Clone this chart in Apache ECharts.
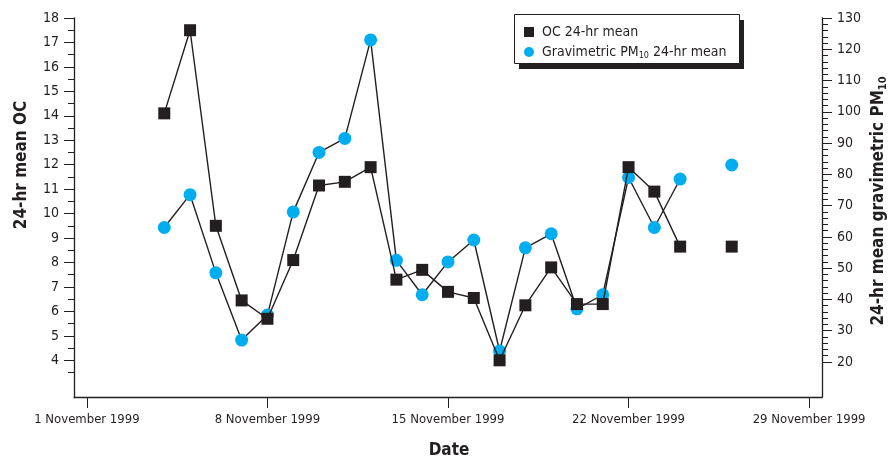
<!DOCTYPE html>
<html>
<head>
<meta charset="utf-8">
<script src="https://cdn.jsdelivr.net/npm/echarts@6/dist/echarts.min.js"></script>
<style>
  html, body { margin: 0; padding: 0; background: #fff; }
  #chart { width: 894px; height: 459px; }
</style>
</head>
<body>
<div id="chart"></div>
<script>
// days of November 1999 (25 has no sample)
const days = [4, 5, 6, 7, 8, 9, 10, 11, 12, 13, 14, 15, 16, 17, 18, 19, 20, 21, 22, 23, 24, 25, 26]
const ocValues = [14.1, 17.5, 9.5, 6.45, 5.7, 8.1, 11.15, 11.3, 11.9, 7.3, 7.7, 6.8, 6.55, 4.0, 6.25, 7.8, 6.3, 6.3, 11.9, 10.9, 8.65, null, 8.65]
const pmValues = [63, 73.5, 48.5, 27, 35, 68, 87, 91.5, 123, 52.5, 41.5, 52, 59, 23.5, 56.5, 61, 37, 41.5, 79, 63, 78.5, null, 83]
const dateTicks = [1, 8, 15, 22, 29]
const ocLabels = [4, 5, 6, 7, 8, 9, 10, 11, 12, 13, 14, 15, 16, 17, 18]
const pmLabels = [20, 30, 40, 50, 60, 70, 80, 90, 100, 110, 120, 130]

const ocName = 'OC 24-hr mean'
const pmName = 'Gravimetric PM10 24-hr mean'
const ink = '#231f20'
const cyan = '#00aeef'
const font = '"DejaVu Sans Condensed", "Liberation Sans", sans-serif'

let ocMinor = []
for (let i = 3.5; i < 18; i += 1) ocMinor.push(i)
let pmMinor = []
for (let i = 22; i < 130; i += 2) {
  if (i % 10 !== 0) pmMinor.push(i)
}

const pair = (vals) => days.map((d, i) => [d, vals[i] == null ? '-' : vals[i]])

const chart = echarts.init(document.getElementById('chart'), null, { renderer: 'canvas' })

const baseY = {
  type: 'value',
  splitLine: { show: false },
  axisLine: { show: true, lineStyle: { color: ink, width: 1.3 } },
  axisLabel: { color: ink, fontFamily: font, fontSize: 14, margin: 15 },
  axisTick: { show: true, length: 10, lineStyle: { color: ink, width: 1 } }
}
const minorY = {
  type: 'value',
  splitLine: { show: false },
  axisLine: { show: false },
  axisLabel: { show: false },
  axisTick: { show: true, length: 6, lineStyle: { color: ink, width: 1 } }
}

const option = {
  animation: false,
  backgroundColor: '#fff',
  grid: { left: 74, right: 72, top: 18, bottom: 62 },
  legend: {
    orient: 'vertical',
    left: 514,
    top: 14,
    z: 10,
    padding: [11, 8, 8, 10],
    itemGap: 6,
    itemWidth: 10,
    itemHeight: 10,
    data: [
      { name: ocName, icon: 'rect' },
      { name: pmName, icon: 'circle' }
    ],
    formatter: (name) => name === pmName ? 'Gravimetric PM{sub|10} 24-hr mean' : name,
    textStyle: {
      color: ink,
      fontFamily: font,
      fontSize: 14,
      padding: [0, 0, 0, 3],
      rich: {
        sub: { fontFamily: font, fontSize: 9, color: ink, verticalAlign: 'bottom', padding: [8, 0, 0, 0] }
      }
    }
  },
  xAxis: {
    type: 'value',
    min: 0.5,
    max: 29.5,
    splitLine: { show: false },
    axisLine: { show: true, onZero: false, lineStyle: { color: ink, width: 1.3 } },
    axisTick: { show: true, length: 11, customValues: dateTicks, lineStyle: { color: ink, width: 1 } },
    axisLabel: {
      color: ink, fontFamily: font, fontSize: 13, margin: 16,
      customValues: dateTicks,
      formatter: (v) => v + ' November 1999'
    }
  },
  yAxis: [
    Object.assign({}, baseY, {
      position: 'left', min: 2.5, max: 18,
      axisLabel: Object.assign({}, baseY.axisLabel, { customValues: ocLabels }),
      axisTick: Object.assign({}, baseY.axisTick, { customValues: ocLabels })
    }),
    Object.assign({}, baseY, {
      position: 'right', min: 8.8, max: 130,
      axisLabel: Object.assign({}, baseY.axisLabel, { customValues: pmLabels }),
      axisTick: Object.assign({}, baseY.axisTick, { customValues: pmLabels })
    }),
    Object.assign({}, minorY, {
      position: 'left', offset: 0, min: 2.5, max: 18,
      axisTick: Object.assign({}, minorY.axisTick, { customValues: ocMinor })
    }),
    Object.assign({}, minorY, {
      position: 'right', offset: 0, min: 8.8, max: 130,
      axisTick: Object.assign({}, minorY.axisTick, { customValues: pmMinor })
    })
  ],
  graphic: [
    // legend frame with its drop shadow
    {
      type: 'rect', z: 5, shape: { x: 519, y: 20, width: 225, height: 49 },
      style: { fill: ink }
    },
    {
      type: 'rect', z: 6, shape: { x: 514.5, y: 14.5, width: 225, height: 49 },
      style: { fill: '#fff', stroke: ink, lineWidth: 1 }
    },
    {
      type: 'text', x: 22, y: 165, rotation: Math.PI / 2,
      style: { text: '24-hr mean OC', font: 'bold 17px ' + font, fill: ink, align: 'center', verticalAlign: 'middle' }
    },
    {
      type: 'text', x: 879, y: 201, rotation: Math.PI / 2,
      style: {
        text: '24-hr mean gravimetric PM{sub|10}',
        font: 'bold 17px ' + font, fill: ink, align: 'center', verticalAlign: 'middle',
        rich: {
          sub: { font: 'bold 11px ' + font, fill: ink, verticalAlign: 'bottom', padding: [9, 0, 0, 0] }
        }
      }
    },
    {
      type: 'text', x: 449, y: 451,
      style: { text: 'Date', font: 'bold 17px ' + font, fill: ink, align: 'center', verticalAlign: 'middle' }
    }
  ],
  series: [
    {
      name: pmName,
      type: 'line',
      yAxisIndex: 1,
      data: pair(pmValues),
      connectNulls: false,
      symbol: 'circle',
      symbolSize: 13,
      itemStyle: { color: cyan },
      lineStyle: { color: ink, width: 1.4 },
      z: 2
    },
    {
      name: ocName,
      type: 'line',
      yAxisIndex: 0,
      data: pair(ocValues),
      connectNulls: false,
      symbol: 'rect',
      symbolSize: 12,
      itemStyle: { color: ink },
      lineStyle: { color: ink, width: 1.4 },
      z: 3
    }
  ]
}

chart.setOption(option)
</script>
</body>
</html>
